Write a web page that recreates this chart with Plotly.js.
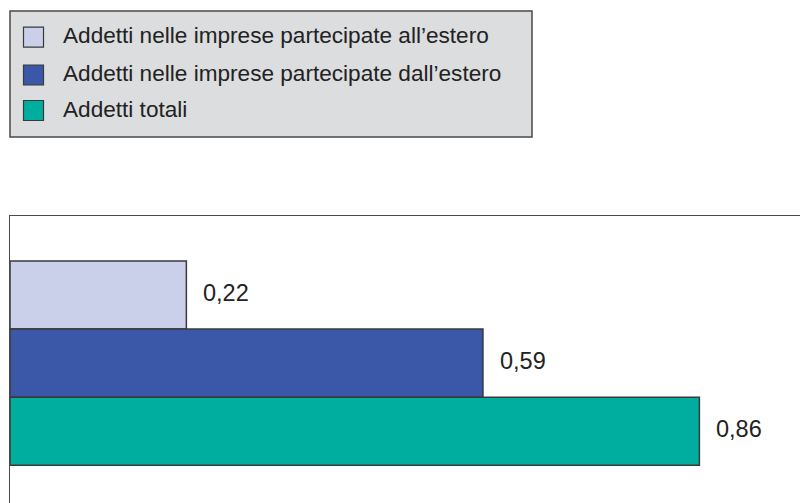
<!DOCTYPE html>
<html>
<head>
<meta charset="utf-8">
<script src="https://cdn.plot.ly/plotly-3.0.1.min.js"></script>
<style>html,body{margin:0;padding:0;background:#fff;}#chart{width:800px;height:503px;}</style>
</head>
<body>
<div id="chart"></div>
<script>
var seriesNames = [
  "Addetti nelle imprese partecipate all\u2019estero",
  "Addetti nelle imprese partecipate dall\u2019estero",
  "Addetti totali"
];
var seriesValues = [0.22, 0.59, 0.86];
var seriesColors = ["#cbd0ea", "#3b58a8", "#00ae9f"];

var W = 800, H = 503;
var M = {l: 10, r: 0, t: 216, b: 0};
var PW = W - M.l - M.r, PH = H - M.t - M.b;
function px(x) { return (x - M.l) / PW; }
function py(y) { return (H - M.b - y) / PH; }

var FONT = "Liberation Sans, Arial, Helvetica, sans-serif";

var traces = seriesNames.map(function (name, i) {
  return {
    type: "bar",
    orientation: "h",
    name: name,
    x: [seriesValues[i]],
    y: [i],
    width: 1,
    marker: {color: seriesColors[i], line: {color: "#3a3a3a", width: 1.5}},
    hoverinfo: "x+name",
    showlegend: false
  };
});

var annotations = seriesValues.map(function (v, i) {
  return {
    x: v, y: i, xref: "x", yref: "y",
    text: v.toFixed(2).replace(".", ","),
    showarrow: false, xanchor: "left", yanchor: "middle", xshift: 15, yshift: 2.5,
    font: {family: FONT, size: 23.5, color: "#222"}
  };
});

// Legend box drawn manually
var shapes = [{
  type: "rect", xref: "paper", yref: "paper",
  x0: px(10), x1: px(532), y0: py(137), y1: py(11),
  fillcolor: "#dcdddf", line: {color: "#4a4a4a", width: 1.5}, layer: "above"
}];
var rowCenters = [37.2, 75, 110.5];
seriesNames.forEach(function (name, i) {
  var c = rowCenters[i];
  shapes.push({
    type: "rect", xref: "paper", yref: "paper",
    x0: px(23.5), x1: px(43.5), y0: py(c + 10), y1: py(c - 10),
    fillcolor: seriesColors[i], line: {color: "#3a3a3a", width: 1.2}, layer: "above"
  });
  annotations.push({
    x: px(61), y: py(c), xref: "paper", yref: "paper",
    text: name, showarrow: false, xanchor: "left", yanchor: "middle", yshift: 1.5,
    font: {family: FONT, size: 22.6, color: "#222"}
  });
});

var layout = {
  width: W, height: H,
  margin: {l: M.l, r: M.r, t: M.t, b: M.b, pad: 0},
  paper_bgcolor: "#ffffff", plot_bgcolor: "#ffffff",
  barmode: "overlay",
  showlegend: false,
  xaxis: {
    range: [0, 0.9855], side: "top", showgrid: false, zeroline: false,
    showticklabels: false, ticks: "", showline: true, linecolor: "#4a4a4a", linewidth: 1.5,
    fixedrange: true
  },
  yaxis: {
    range: [3.054, -1.161], showgrid: false, zeroline: false,
    showticklabels: false, ticks: "", showline: true, linecolor: "#4a4a4a", linewidth: 1.5,
    fixedrange: true
  },
  shapes: shapes,
  annotations: annotations
};

Plotly.newPlot("chart", traces, layout, {displayModeBar: false, staticPlot: true});
</script>
</body>
</html>
